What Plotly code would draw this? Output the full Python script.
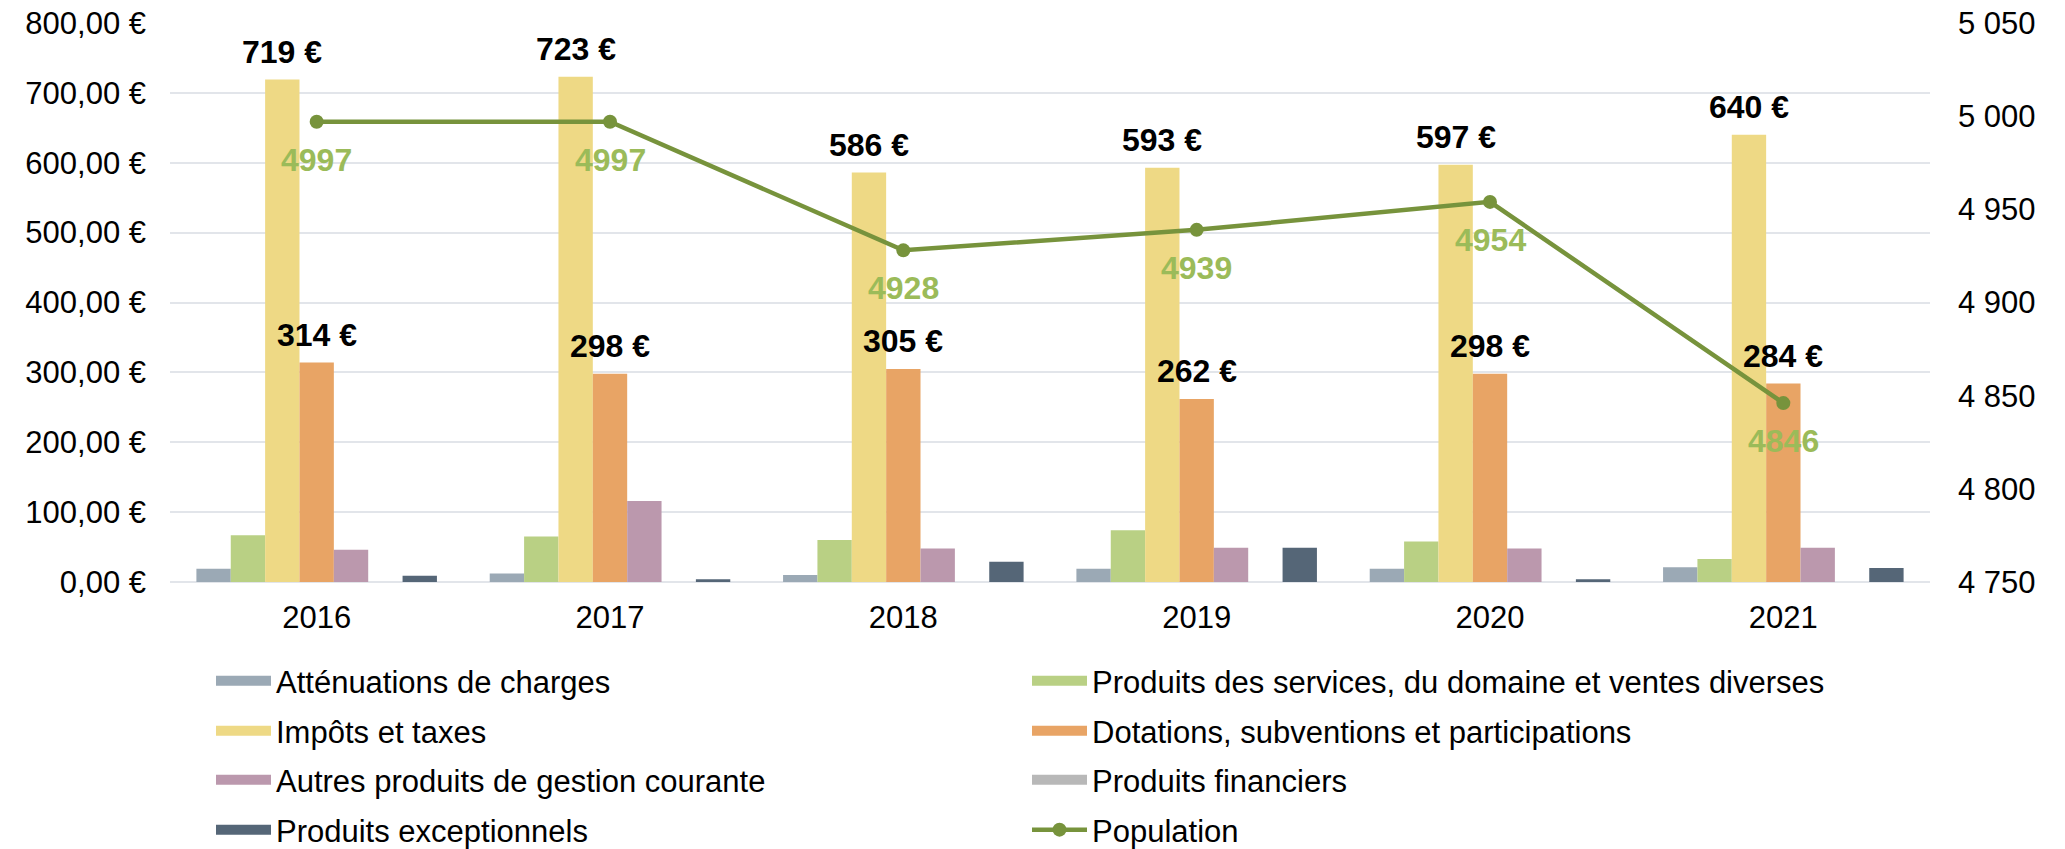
import plotly.graph_objects as go

years = ["2016", "2017", "2018", "2019", "2020", "2021"]
attenuations = [19, 12, 10, 19, 19, 21]
produits_services = [67, 65, 60, 74, 58, 33]
impots_taxes = [719, 723, 586, 593, 597, 640]
dotations = [314, 298, 305, 262, 298, 284]
autres_produits = [46, 116, 48, 49, 48, 49]
produits_financiers = [0, 0, 0, 0, 0, 0]
produits_exceptionnels = [9, 4, 29, 49, 4, 20]
population = [4997, 4997, 4928, 4939, 4954, 4846]

left_tickvals = [0, 100, 200, 300, 400, 500, 600, 700, 800]
left_ticktext = ["0,00 €", "100,00 €", "200,00 €", "300,00 €", "400,00 €",
                 "500,00 €", "600,00 €", "700,00 €", "800,00 €"]
right_tickvals = [4750, 4800, 4850, 4900, 4950, 5000, 5050]
right_ticktext = ["4 750", "4 800", "4 850", "4 900", "4 950", "5 000", "5 050"]

FONT = "Liberation Sans, Arial, sans-serif"
W, H = 2065, 849
ML, MT = 170, 23
plot_w, plot_h = 1760, 559
MR = W - ML - plot_w
MB = H - MT - plot_h
BARGAP = 0.18
NBARS = 7
bar_px = plot_w / len(years) * (1 - BARGAP) / NBARS

series = [
    ("Atténuations de charges", attenuations, "#9BA9B5"),
    ("Produits des services, du domaine et ventes diverses", produits_services, "#B9D084"),
    ("Impôts et taxes", impots_taxes, "#EED985"),
    ("Dotations, subventions et participations", dotations, "#E8A465"),
    ("Autres produits de gestion courante", autres_produits, "#BB98AD"),
    ("Produits financiers", produits_financiers, "#B8B8B8"),
    ("Produits exceptionnels", produits_exceptionnels, "#556677"),
]

# legend slots in figure pixels: (legend box left, row centre)
COL_X = [211, 1027]
ROW_Y = [681, 731, 780, 830]
ITEMW = 55


def legend_id(k):
    return "legend" if k == 0 else f"legend{k + 1}"


fig = go.Figure()
for name, vals, col in series:
    fig.add_trace(go.Bar(x=years, y=vals, name=name, marker_color=col,
                         marker_line_width=0, yaxis="y", showlegend=False))

# legend entries for the bar series (wide colour swatches)
for k, (name, vals, col) in enumerate(series):
    fig.add_trace(go.Scatter(x=[None], y=[None], name=name, mode="lines",
                             line=dict(color=col, width=17), yaxis="y",
                             legend=legend_id(k), showlegend=True,
                             hoverinfo="skip"))

fig.add_trace(go.Scatter(x=years, y=population, name="Population", yaxis="y2",
                         mode="lines+markers",
                         line=dict(color="#77933C", width=4.5),
                         marker=dict(color="#77933C", size=14),
                         legend=legend_id(7)))

annotations = []
for i, v in enumerate(impots_taxes):
    annotations.append(dict(x=i, y=v, xref="x", yref="y", text=f"{v} €",
                            showarrow=False, xshift=-bar_px, yshift=28,
                            yanchor="middle",
                            font=dict(family=FONT, size=32, color="#000000", weight="bold")))
for i, v in enumerate(dotations):
    annotations.append(dict(x=i, y=v, xref="x", yref="y", text=f"{v} €",
                            showarrow=False, xshift=0, yshift=28,
                            yanchor="middle",
                            font=dict(family=FONT, size=32, color="#000000", weight="bold")))
for i, v in enumerate(population):
    annotations.append(dict(x=i, y=v, xref="x", yref="y2", text=f"{v}",
                            showarrow=False, yshift=-38, yanchor="middle",
                            font=dict(family=FONT, size=32, color="#9BBB59", weight="bold")))

layout = dict(
    width=W, height=H,
    margin=dict(l=ML, r=MR, t=MT, b=MB, pad=0, autoexpand=False),
    paper_bgcolor="white", plot_bgcolor="white",
    font=dict(family=FONT, color="#000000"),
    barmode="group", bargap=BARGAP, bargroupgap=0,
    annotations=annotations,
    showlegend=True,
    xaxis=dict(type="category", range=[-0.5, 5.5], showgrid=False, showline=False, ticks="",
               tickfont=dict(family=FONT, size=31, color="#000000"),
               ticklabelstandoff=14),
    yaxis=dict(range=[0, 800], tickvals=left_tickvals, ticktext=left_ticktext,
               showgrid=True, gridcolor="#E2E5EA", gridwidth=2,
               zeroline=True, zerolinecolor="#E2E5EA", zerolinewidth=2,
               showline=False, ticks="", ticklabeloverflow="allow",
               tickfont=dict(family=FONT, size=31, color="#000000"),
               ticklabelstandoff=23),
    yaxis2=dict(range=[4750, 5050], tickvals=right_tickvals, ticktext=right_ticktext,
                overlaying="y", side="right", showgrid=False, zeroline=False,
                showline=False, ticks="", ticklabeloverflow="allow",
                tickfont=dict(family=FONT, size=31, color="#000000"),
                ticklabelstandoff=27),
)

for k in range(8):
    col, row = k % 2, k // 2
    layout[legend_id(k)] = dict(
        x=(COL_X[col] - ML) / plot_w, xanchor="left",
        y=(MT + plot_h - ROW_Y[row]) / plot_h, yanchor="middle",
        font=dict(family=FONT, size=31, color="#000000"),
        itemwidth=ITEMW, bgcolor="rgba(0,0,0,0)", borderwidth=0,
    )

fig.update_layout(**layout)
fig.write_html("out.html",
               config={"displayModeBar": False},
               post_script="document.body.style.margin='0';document.body.style.overflow='hidden';")
